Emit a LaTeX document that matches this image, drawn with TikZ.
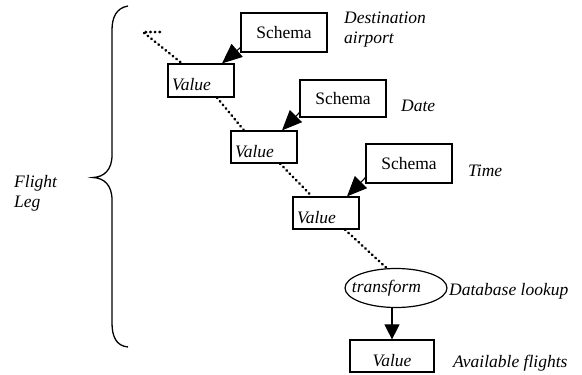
\documentclass[tikz,border=0pt]{standalone}
\usepackage{fontspec}
\setmainfont{Liberation Serif}
\usetikzlibrary{arrows.meta,shapes.geometric}
\tikzset{
  base/.style={font=\fontsize{17.5}{20}\selectfont},
  schemabox/.style={base, draw, line width=1.2pt, minimum width=86pt, minimum height=39pt, inner sep=0pt},
  valbox/.style={base, draw, line width=1.2pt, font=\fontsize{17.5}{20}\selectfont\itshape, text width=58pt, inner xsep=4pt, inner ysep=0pt, align=left, minimum height=32pt, text height=20pt, text depth=0pt},
  lbl/.style={base, font=\fontsize{17.5}{20}\selectfont\itshape, inner sep=0pt, anchor=base west, align=left},
  dots/.style={line width=2.6pt, line cap=round, dash pattern=on 0.6pt off 4pt},
  bigarrow/.style={line width=1.1pt, -{Triangle[length=20pt,width=17pt]}},
  midarrow/.style={line width=1.1pt, -{Triangle[length=15pt,width=15pt]}},
  brace/.style={line width=1.3pt}
}
\begin{document}
\begin{tikzpicture}[x=1pt,y=-1pt]
\useasboundingbox (0,0) rectangle (582,375);
% brace
\draw[brace] (128,6) .. controls (116,8) and (112,18) .. (112,30) -- (112,155)
  .. controls (112,170) and (104,177) .. (93,177.5)
  .. controls (104,178) and (112,185) .. (112,200) -- (112,323)
  .. controls (112,336) and (116,346) .. (128,347);
% boxes
\node[schemabox] (s1) at (284,32.5) {Schema};
\node[schemabox, minimum height=37pt] (s2) at (343,98.5) {Schema};
\node[schemabox] (s3) at (409,163.5) {Schema};
\node[valbox, minimum height=33pt] (v1) at (201,80.5) {Value};
\node[valbox] (v2) at (264,147) {Value};
\node[valbox] (v3) at (326,213) {Value};
\node[valbox, text width=76pt, align=center] (v4) at (392,356) {Value};
\node[base, draw, line width=1.2pt, ellipse, minimum width=102pt, minimum height=39pt, inner sep=0pt,
  label={[base, font=\fontsize{17.5}{20}\selectfont\itshape, xshift=-9.5pt]center:transform}] (tr) at (396,288) {};
% dotted chain
\coordinate (c0) at (143,32);
\coordinate (c1) at (160,32);
\draw[dots] (c1) -- (c0) -- ([xshift=-19pt]v1.north);
\draw[dots] ([xshift=16pt]v1.south) -- ([xshift=-20pt]v2.north);
\draw[dots] ([xshift=16pt]v2.south) -- ([xshift=-14pt]v3.north);
\draw[dots] ([xshift=19pt]v3.south) -- (tr.115);
% arrows
\draw[bigarrow] ([yshift=5pt]s1.south west) -- ([xshift=21pt]v1.north);
\draw[bigarrow] ([yshift=5pt]s2.south west) -- ([xshift=18pt]v2.north);
\draw[bigarrow] ([yshift=6pt]s3.south west) -- ([xshift=21pt]v3.north);
\draw[midarrow] (v4.north |- tr.south) -- (v4.north);
% labels
\node[lbl] (ldest) at (344,43) {Destination\\airport};
\node[lbl] (ldate) at (401,111) {Date};
\node[lbl] (ltime) at (468,176) {Time};
\node[lbl] (ldb) at (449,295) {Database lookup};
\node[lbl] (lav) at (453,367) {Available flights};
\node[lbl] (lfl) at (14,207) {Flight\\Leg};
\end{tikzpicture}
\end{document}
